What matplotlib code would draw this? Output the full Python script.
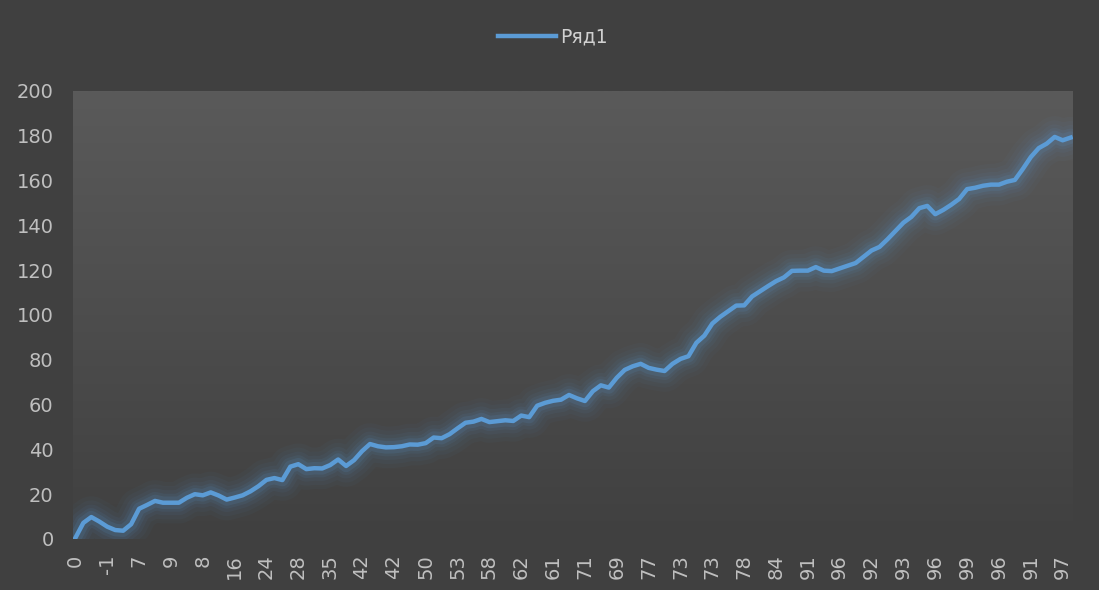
import numpy as np
import matplotlib
matplotlib.use("Agg")
import matplotlib.pyplot as plt
from matplotlib.colors import LinearSegmentedColormap

# values, one point per category
series_name = "Ряд1"
values = [
    0.5, 7.2, 9.8, 7.8, 5.5, 4.0, 3.7, 6.6, 13.5, 15.2,
    17.0, 16.2, 16.2, 16.2, 18.4, 20.0, 19.5, 20.8, 19.4, 17.6,
    18.5, 19.5, 21.3, 23.6, 26.4, 27.2, 26.3, 32.3, 33.4, 31.2,
    31.6, 31.5, 33.0, 35.5, 32.6, 35.2, 39.2, 42.4, 41.4, 40.9,
    41.0, 41.4, 42.2, 42.1, 42.8, 45.3, 45.0, 46.8, 49.4, 51.9,
    52.4, 53.6, 52.2, 52.6, 53.0, 52.7, 55.1, 54.4, 59.5, 60.8,
    61.7, 62.2, 64.3, 62.8, 61.6, 66.0, 68.6, 67.6, 72.0, 75.5,
    77.1, 78.2, 76.4, 75.6, 75.0, 78.2, 80.4, 81.6, 87.6, 90.8,
    96.2, 99.2, 101.7, 104.2, 104.3, 108.3, 110.6, 112.9, 115.1, 116.8,
    119.7, 119.8, 119.8, 121.4, 119.8, 119.6, 120.8, 122.0, 123.2, 126.0,
    128.8, 130.4, 133.8, 137.5, 141.2, 143.8, 147.7, 148.7, 145.0, 146.9,
    149.2, 151.8, 156.2, 156.8, 157.7, 158.2, 158.2, 159.5, 160.3, 165.2,
    170.5, 174.5, 176.5, 179.5, 178.0, 179.2,
]
# category labels shown under the axis (every 4th category)
tick_labels = ["0", "-1", "7", "9", "8", "16", "24", "28", "35", "42",
               "42", "50", "53", "58", "62", "61", "71", "69", "77", "73",
               "73", "78", "84", "91", "96", "92", "93", "96", "99", "96",
               "91", "97"]
label_step = 4
y_ticks = [0, 20, 40, 60, 80, 100, 120, 140, 160, 180, 200]

BG = "#404040"
LINE = "#5b9bd5"
TXT = "#bfbfbf"

fig = plt.figure(figsize=(10.99, 5.9), dpi=100, facecolor=BG)
ax = fig.add_axes([73 / 1099, 51 / 590, 1000 / 1099, 448 / 590])
ax.set_facecolor(BG)

# vertical gradient of the plot area
grad = LinearSegmentedColormap.from_list("g", ["#404040", "#5a5a5a"])
ax.imshow(np.linspace(0, 1, 256).reshape(-1, 1), cmap=grad, origin="lower",
          aspect="auto", extent=[0, 1, 0, 1], transform=ax.transAxes, zorder=0)

x = np.arange(len(values))
# soft glow under the line
for width, alpha in [(30, 0.035), (24, 0.045), (18, 0.06), (13, 0.08), (9, 0.12)]:
    ax.plot(x, values, color=LINE, lw=width, alpha=alpha,
            solid_capstyle="round", solid_joinstyle="round", zorder=2)
ax.plot(x, values, color=LINE, lw=3.2, solid_joinstyle="round",
        label=series_name, zorder=3)

ax.set_xlim(-0.3, len(values) - 0.7)
ax.set_ylim(0, 200)
ax.set_yticks(y_ticks)
ax.set_xticks(x[::label_step][:len(tick_labels)])
ax.set_xticklabels(tick_labels, rotation=90)
ax.tick_params(axis="y", length=0, pad=14, labelsize=14, labelcolor=TXT)
ax.tick_params(axis="x", length=0, pad=11, labelsize=14, labelcolor=TXT)
for spine in ax.spines.values():
    spine.set_visible(False)

leg = fig.legend(loc="center", bbox_to_anchor=(0.503, 0.937), frameon=False,
                 handlelength=3.1, handletextpad=0.2, fontsize=13.5)
for text in leg.get_texts():
    text.set_color("#d0d0d0")
for line in leg.get_lines():
    line.set_linewidth(3.2)

fig.savefig("out.png", dpi=100, facecolor=BG)
